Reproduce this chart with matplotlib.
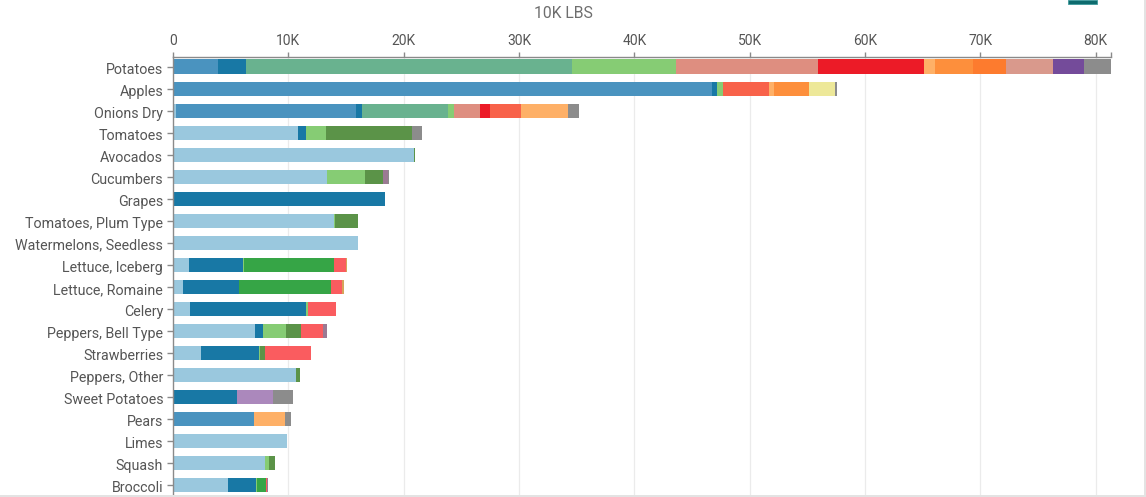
import matplotlib
matplotlib.use("Agg")
import matplotlib.pyplot as plt
from matplotlib.patches import Rectangle
from matplotlib.ticker import FuncFormatter, FixedLocator
from matplotlib.transforms import ScaledTranslation

plt.rcParams['font.family'] = ['Roboto', 'DejaVu Sans']

categories = ["Potatoes", "Apples", "Onions Dry", "Tomatoes", "Avocados", "Cucumbers",
              "Grapes", "Tomatoes, Plum Type", "Watermelons, Seedless", "Lettuce, Iceberg",
              "Lettuce, Romaine", "Celery", "Peppers, Bell Type", "Strawberries",
              "Peppers, Other", "Sweet Potatoes", "Pears", "Limes", "Squash", "Broccoli"]

# Values in units of 10K LBS, one list per stacked series (order = stacking order)
light_blue  = [0, 0, 280, 10840, 20880, 13350, 0, 13930, 16030, 1400, 860, 1490, 7120, 2440, 10670, 0, 0, 9890, 7980, 4780]
steel_blue  = [3920, 46770, 15570, 0, 0, 0, 0, 0, 0, 0, 0, 0, 0, 0, 0, 0, 7030, 0, 0, 0]
dark_blue   = [2430, 350, 530, 690, 0, 0, 18370, 0, 0, 4680, 4870, 10040, 690, 5020, 0, 5560, 0, 0, 0, 2420]
teal_green  = [28220, 0, 7460, 0, 0, 0, 0, 0, 0, 0, 0, 0, 0, 0, 0, 0, 0, 0, 0, 0]
light_green = [9080, 600, 500, 1730, 0, 3290, 0, 90, 0, 80, 0, 180, 1990, 90, 0, 0, 0, 0, 350, 90]
dark_green  = [0, 0, 0, 7450, 90, 1560, 0, 2010, 0, 0, 0, 0, 1300, 430, 340, 0, 0, 0, 520, 0]
green       = [0, 0, 0, 0, 0, 0, 0, 0, 0, 7800, 7970, 0, 0, 0, 0, 0, 0, 0, 0, 780]
salmon      = [12300, 0, 2250, 0, 0, 0, 0, 0, 0, 0, 0, 0, 0, 0, 0, 0, 0, 0, 0, 0]
red         = [9180, 0, 890, 0, 0, 0, 0, 0, 0, 0, 0, 0, 0, 0, 0, 0, 0, 0, 0, 0]
tomato      = [0, 3990, 2680, 0, 0, 0, 0, 0, 0, 0, 0, 0, 0, 0, 0, 0, 0, 0, 0, 0]
coral_red   = [0, 0, 0, 0, 0, 0, 0, 0, 0, 1040, 950, 2420, 1900, 3990, 0, 0, 0, 0, 0, 90]
light_orange = [940, 430, 4050, 0, 0, 0, 0, 0, 0, 0, 0, 0, 0, 0, 0, 0, 2680, 0, 0, 0]
orange      = [3310, 3030, 0, 0, 0, 0, 0, 0, 0, 0, 0, 0, 0, 0, 0, 0, 0, 0, 0, 0]
dark_orange = [2850, 0, 0, 0, 0, 0, 0, 0, 0, 0, 0, 0, 0, 0, 0, 0, 0, 0, 0, 0]
khaki       = [0, 2250, 0, 0, 0, 0, 0, 0, 0, 0, 0, 0, 0, 0, 0, 0, 0, 0, 0, 0]
tan         = [0, 0, 0, 0, 0, 0, 0, 0, 0, 80, 170, 0, 0, 0, 0, 0, 0, 0, 0, 0]
rose        = [4070, 0, 0, 0, 0, 0, 0, 0, 0, 0, 0, 0, 0, 0, 0, 0, 0, 0, 0, 0]
purple      = [2690, 0, 0, 0, 0, 0, 0, 0, 0, 0, 0, 0, 0, 0, 0, 0, 0, 0, 0, 0]
lavender    = [0, 0, 0, 0, 0, 0, 0, 0, 0, 0, 0, 0, 0, 0, 0, 3110, 0, 0, 0, 0]
mauve       = [0, 0, 0, 0, 0, 460, 0, 0, 0, 0, 0, 0, 350, 0, 0, 0, 0, 0, 0, 80]
gray        = [2330, 180, 960, 860, 0, 80, 0, 0, 0, 0, 0, 0, 0, 0, 0, 1740, 520, 0, 0, 0]

series = [
    (light_blue, "#9ac8de"), (steel_blue, "#4a93bf"), (dark_blue, "#1878a5"),
    (teal_green, "#69b28f"), (light_green, "#86cc74"), (dark_green, "#5b9348"),
    (green, "#36a546"), (salmon, "#de8e80"), (red, "#ec1b27"), (tomato, "#f8624a"),
    (coral_red, "#fa5c5f"), (light_orange, "#feb067"), (orange, "#fd8f3c"),
    (dark_orange, "#fd7b2e"), (khaki, "#ede899"), (tan, "#d6a45a"), (rose, "#d9998c"),
    (purple, "#744b9a"), (lavender, "#ab88bc"), (mauve, "#9b7a93"), (gray, "#8c8c8c"),
]

x_ticks = [0, 10000, 20000, 30000, 40000, 50000, 60000, 70000, 80000]
title_text = "10K LBS"

W, H = 1146, 497
fig = plt.figure(figsize=(W / 100, H / 100), dpi=100)
fig.patch.set_facecolor("white")

ax_left, ax_right, ax_top = 173, 1111, 57
ax = fig.add_axes([ax_left / W, 0, (ax_right - ax_left) / W, 1 - ax_top / H])

totals = [sum(s[0][i] for s in series) for i in range(len(categories))]
xmax = max(totals)

ypos = list(range(len(categories)))
left = [0] * len(categories)
for vals, col in series:
    ax.barh(ypos, vals, left=left, height=0.636, color=col, linewidth=0, zorder=2)
    left = [a + b for a, b in zip(left, vals)]

pitch = 22.03
ax.set_ylim((H - 66.5) / pitch, -(66.5 - ax_top) / pitch)
ax.set_xlim(0, xmax)

ax.xaxis.tick_top()
ax.xaxis.set_major_locator(FixedLocator(x_ticks))
ax.xaxis.set_major_formatter(FuncFormatter(lambda v, p: "0" if v == 0 else f"{int(v / 1000)}K"))
ax.xaxis.set_minor_locator(FixedLocator([xmax]))
ax.tick_params(axis="x", which="both", top=True, bottom=False, length=3.8, width=1.0,
               color="#8a8a8a", labelsize=10.0, labelcolor="#555555", pad=2.4)
ax.set_yticks(ypos)
ax.set_yticklabels(categories)
ax.tick_params(axis="y", length=4.3, width=1.0, color="#8a8a8a", labelsize=10.3,
               labelcolor="#555555", pad=2.8)
shift = ScaledTranslation(0, -1.5 / 100, fig.dpi_scale_trans)
for lbl in ax.get_yticklabels():
    lbl.set_transform(lbl.get_transform() + shift)

for sp in ["right", "bottom"]:
    ax.spines[sp].set_visible(False)
for sp in ["top", "left"]:
    ax.spines[sp].set_color("#8a8a8a")
    ax.spines[sp].set_linewidth(1.0)

for xt in x_ticks[1:]:
    ax.axvline(xt, color="#ebebeb", linewidth=0.9, zorder=1)

fig.text(563 / W, 1 - 13 / H, title_text, ha="center", va="center", fontsize=11.3,
         color="#6e6e6e")

# teal icon at top right and frame edges
fig.patches.append(Rectangle((1068 / W, 1 - 3.5 / H), 29 / W, 3.5 / H,
                             transform=fig.transFigure, facecolor="#0e6b6e",
                             edgecolor="#3f9a9c", linewidth=0.6, zorder=5))
fig.patches.append(Rectangle((0, 0), 1, 2 / H, transform=fig.transFigure,
                             facecolor="#e3e3e3", edgecolor="none", zorder=5))
fig.patches.append(Rectangle((1 - 2 / W, 0), 2 / W, 1, transform=fig.transFigure,
                             facecolor="#e3e3e3", edgecolor="none", zorder=5))

fig.savefig("out.png", dpi=100, facecolor="white")
